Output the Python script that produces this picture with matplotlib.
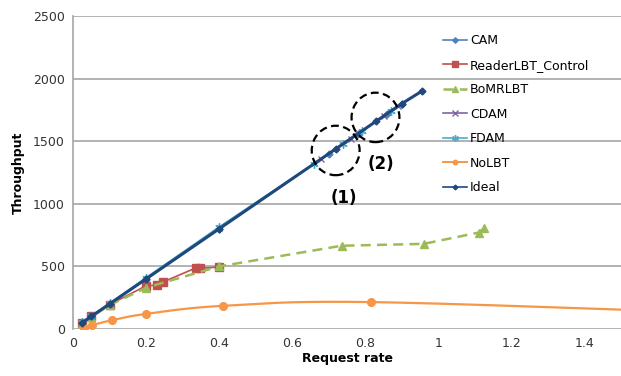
import numpy as np
import matplotlib
matplotlib.use('Agg')
import matplotlib.pyplot as plt
from matplotlib.patches import Ellipse

# ── Data ──────────────────────────────────────────────────────────────
cam_x   = [0.025, 0.05, 0.1, 0.2, 0.4, 0.70, 0.78, 0.86, 0.90]
cam_y   = [50, 100, 200, 400, 800, 1400, 1560, 1720, 1800]
rdr_x   = [0.025, 0.05, 0.1, 0.2, 0.229, 0.246, 0.338, 0.347, 0.401]
rdr_y   = [50, 100, 195, 345, 350, 375, 490, 485, 495]
bom_x   = [0.025, 0.05, 0.1, 0.2, 0.4, 0.735, 0.96, 1.11, 1.125]
bom_y   = [50, 95, 190, 330, 500, 665, 680, 770, 805]
cdam_x  = [0.025, 0.05, 0.1, 0.2, 0.4, 0.68, 0.76, 0.85, 0.89]
cdam_y  = [50, 100, 200, 400, 810, 1360, 1520, 1700, 1780]
fdam_x  = [0.025, 0.05, 0.1, 0.2, 0.4, 0.66, 0.74, 0.79, 0.87]
fdam_y  = [55, 105, 205, 410, 815, 1320, 1480, 1580, 1740]
nolbt_x = [0.029, 0.052, 0.106, 0.199, 0.41, 0.815, 1.8]
nolbt_y = [8, 30, 70, 120, 185, 215, 125]
ideal_x = [0.025, 0.05, 0.1, 0.2, 0.4, 0.72, 0.83, 0.90, 0.955]
ideal_y = [50, 100, 200, 400, 800, 1440, 1660, 1800, 1900]


def smooth(x, y, n=30):
    # Catmull-Rom curve through the points, like Excel's smoothed line
    x = np.asarray(x, float); y = np.asarray(y, float)
    px = np.concatenate([[2 * x[0] - x[1]], x, [2 * x[-1] - x[-2]]])
    py = np.concatenate([[2 * y[0] - y[1]], y, [2 * y[-1] - y[-2]]])
    t = np.linspace(0, 1, n)
    xs, ys = [], []
    for i in range(1, len(px) - 2):
        for arr, out in ((px, xs), (py, ys)):
            p0, p1, p2, p3 = arr[i - 1:i + 3]
            out.extend(0.5 * ((2 * p1) + (-p0 + p2) * t
                              + (2 * p0 - 5 * p1 + 4 * p2 - p3) * t ** 2
                              + (-p0 + 3 * p1 - 3 * p2 + p3) * t ** 3))
    return xs, ys


plt.rcParams['font.family'] = ['DejaVu Sans']

fig = plt.figure(figsize=(6.21, 3.76), dpi=100)
ax = fig.add_axes([73 / 621, 47 / 376, 548 / 621, 313 / 376])

ax.plot(cam_x, cam_y, color='#4F81BD', marker='D', markersize=3.5, lw=1.2, label='CAM')
ax.plot(rdr_x, rdr_y, color='#C0504D', marker='s', markersize=5.5, lw=1.2, label='ReaderLBT_Control')
ax.plot(bom_x, bom_y, color='#9BBB59', marker='^', markersize=6, lw=1.8,
        ls=(0, (4, 2.5)), label='BoMRLBT')
ax.plot(cdam_x, cdam_y, color='#8064A2', marker='x', markersize=5, lw=1.2, label='CDAM')
ax.plot(fdam_x, fdam_y, color='#4BACC6', marker=(6, 2, 0), markersize=6, lw=1.2, label='FDAM')
sx, sy = smooth(nolbt_x, nolbt_y)
ax.plot(sx, sy, color='#F79646', lw=1.6)
ax.plot(nolbt_x, nolbt_y, color='#F79646', marker='o', markersize=5.5, lw=0)
ax.plot([], [], color='#F79646', marker='o', markersize=4, lw=1.4, label='NoLBT')
ax.plot(ideal_x, ideal_y, color='#1F497D', marker='D', markersize=3.5, lw=2.2)
ax.plot([], [], color='#1F497D', marker='D', markersize=3, lw=1.2, label='Ideal')

# dashed circles marking regions (1) and (2)
for cx, cy, txt, tx, ty in [(0.719, 1426, '(1)', 0.742, 1048),
                            (0.828, 1690, '(2)', 0.842, 1317)]:
    ax.add_patch(Ellipse((cx, cy), 0.131, 395, fill=False, ls=(0, (3.5, 2)),
                         lw=1.6, color='black', zorder=5))
    ax.text(tx, ty, txt, fontsize=12, fontweight='bold', ha='center', va='center')

ax.set_xlim(0, 1.5)
ax.set_ylim(0, 2500)
ax.set_xticks([0, 0.2, 0.4, 0.6, 0.8, 1.0, 1.2, 1.4])
ax.set_xticklabels(['0', '0.2', '0.4', '0.6', '0.8', '1', '1.2', '1.4'])
ax.set_yticks([0, 500, 1000, 1500, 2000, 2500])
ax.yaxis.grid(True, color='#A6A6A6', lw=1.2)
ax.set_axisbelow(True)
for s in ['top', 'right', 'bottom']:
    ax.spines[s].set_visible(False)
ax.spines['left'].set_color('#A6A6A6')
ax.spines['left'].set_linewidth(1.2)
ax.tick_params(length=0, labelsize=9, colors='#333333', pad=6)

ax.set_xlabel('Request rate', fontsize=9, fontweight='bold', labelpad=1)
ax.set_ylabel('Throughput', fontsize=9, fontweight='bold', labelpad=6)

fig.legend(loc='upper left', bbox_to_anchor=(437 / 621, 1 - 28 / 376), frameon=False,
           fontsize=9, labelspacing=0.92, handlelength=1.9, handletextpad=0.25,
           borderpad=0, markerscale=0.8)

fig.savefig('out.png', dpi=100)
plt.close()
